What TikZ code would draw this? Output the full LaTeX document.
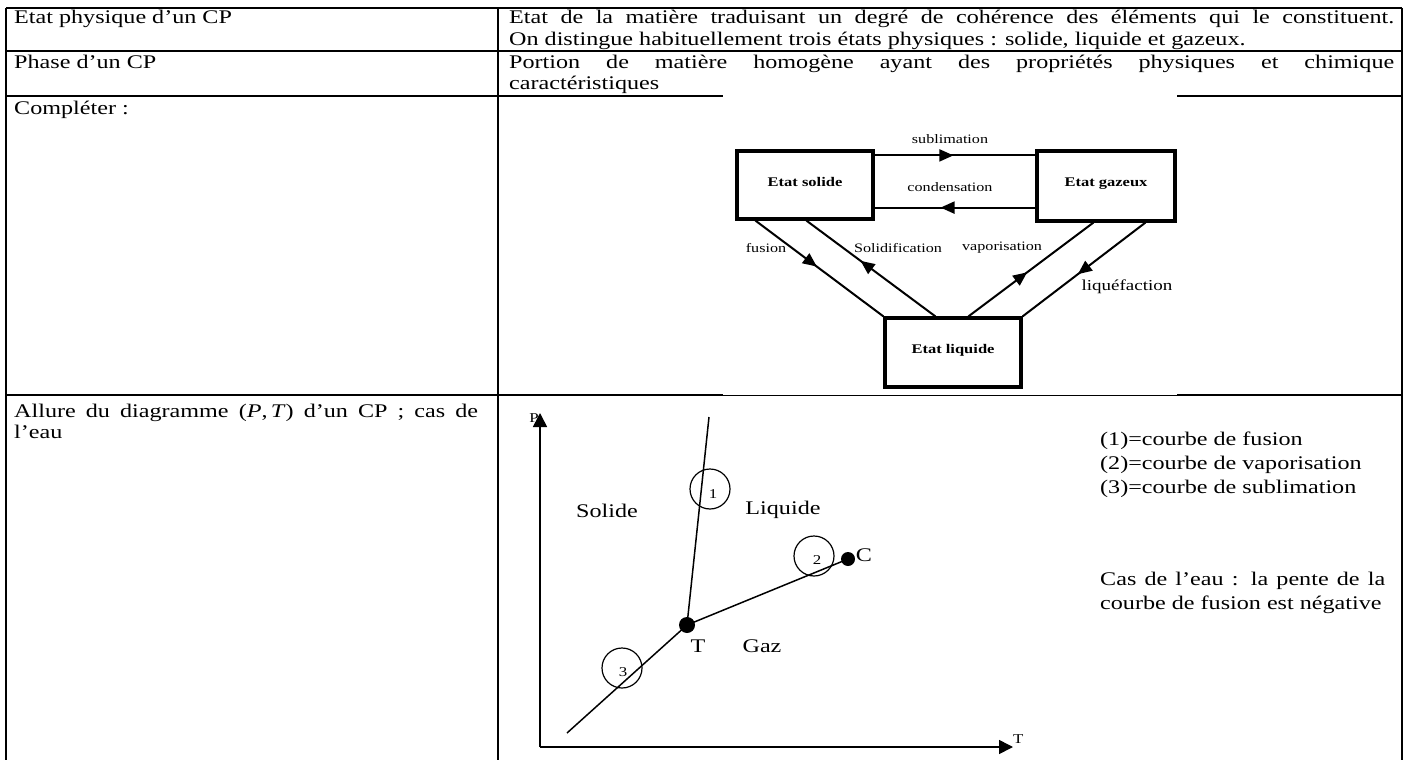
\documentclass[tikz,border=0pt]{standalone}
\usepackage{fontspec}
\setmainfont{Liberation Serif}[FakeStretch=1.25]
\usetikzlibrary{arrows.meta,decorations.markings,calc}
\newcommand{\mainsize}{\fontsize{19.3}{21.5}\selectfont}
\newcommand{\legsize}{\fontsize{19.3}{24}\selectfont}
\begin{document}
\begin{tikzpicture}[x=1pt,y=-1pt,
  gridline/.style={line width=1.8pt},
  thinline/.style={line width=1pt},
  cell/.style={anchor=north west,inner sep=0pt,align=justify,font=\mainsize},
  state/.style={draw,line width=3.2pt,inner sep=0pt,text depth=7pt,font=\fontsize{13.2}{16}\selectfont\bfseries},
  lbl/.style={inner sep=0pt,font=\fontsize{12.9}{15}\selectfont},
  lblbig/.style={inner sep=0pt,font=\fontsize{15.2}{18}\selectfont},
  conn/.style={line width=2pt,postaction={decorate},
    decoration={markings,mark=at position #1 with {\arrow{Triangle[length=14pt,width=12pt]}}}},
  axis/.style={line width=1.6pt,-{Triangle[length=14pt,width=14pt]}},
  curve/.style={line width=1.5pt},
  pt/.style={circle,fill,inner sep=0pt,minimum size=#1},
  ring/.style={circle,draw,line width=1.2pt,inner sep=0pt,minimum size=40pt},
  num/.style={inner sep=0pt,font=\fontsize{13.5}{16}\selectfont},
  region/.style={inner sep=0pt,font=\mainsize}
]
\useasboundingbox (0,0) rectangle (1409,760);
\fill[white] (0,0) rectangle (1409,760);

% table grid
\draw[gridline] (6,8) -- (1402,8);
\draw[gridline] (6,51) -- (1402,51);
\draw[gridline] (6,96) -- (723,96);
\draw[gridline] (1177,96) -- (1402,96);
\draw[gridline] (6,395) -- (723,395);
\draw[thinline] (723,395) -- (1177,395);
\draw[gridline] (1177,395) -- (1402,395);
\draw[gridline] (6,8) -- (6,760);
\draw[gridline] (498,8) -- (498,760);
\draw[gridline] (1402,8) -- (1402,760);

% cell texts
\node[cell,text width=460pt] (t1) at (14,8.5) {\strut Etat physique d'un CP};
\node[cell,text width=885pt] (d1) at (509,8.5) {\strut Etat de la matière traduisant un degré de cohérence des éléments qui le constituent.\linebreak On distingue habituellement trois états physiques : solide, liquide et gazeux.};
\node[cell,text width=460pt] (t2) at (14,53) {\strut Phase d'un CP};
\node[cell,text width=885pt] (d2) at (509,53) {\strut Portion de matière homogène ayant des propriétés physiques et chimique\linebreak caractéristiques};
\node[cell,text width=460pt] (t3) at (14,99) {\strut Compléter :};
\node[cell,text width=464pt] (t4) at (14,402) {\strut Allure du diagramme (\textit{P},\,\textit{T}) d'un CP ; cas de\linebreak l'eau};

% state diagram
\node[state,minimum width=136pt,minimum height=68pt] (sol) at (805,185) {Etat solide};
\node[state,minimum width=138pt,minimum height=70pt] (gaz) at (1106,186) {Etat gazeux};
\node[state,minimum width=136pt,minimum height=69pt] (liq) at (953,352.5) {Etat liquide};

\draw[conn=0.49] ($(sol.north east)+(0,6)$) -- ($(gaz.north west)+(0,6)$);
\draw[conn=0.59] ($(gaz.south west)+(0,-15)$) -- ($(sol.south east)+(0,-13)$);
\draw[conn=0.48] ($(sol.south west)+(20,0)$) -- (liq.north west);
\draw[conn=0.58] ($(liq.north west)+(52,0)$) -- ($(sol.south west)+(71,0)$);
\draw[conn=0.47] ($(liq.north west)+(85,0)$) -- ($(gaz.south west)+(58,0)$);
\draw[conn=0.55] ($(gaz.south west)+(110,0)$) -- (liq.north east);

\node[lbl] (lsub) at (950,139) {sublimation};
\node[lbl] (lcond) at (950,187) {condensation};
\node[lbl] (lfus) at (766,248) {fusion};
\node[lbl] (lsol) at (898,248) {Solidification};
\node[lbl] (lvap) at (1002,248) {vaporisation};
\node[lblbig] (lliq) at (1127,287) {liquéfaction};

% P-T diagram
\coordinate (O) at (540,747);
\coordinate (Ptop) at (540,413);
\coordinate (Tend) at (1013,747);
\draw[axis] (O) -- (Ptop);
\draw[axis] (O) -- (Tend);
\node[num,anchor=east] (Plab) at (539,418) {P};
\node[num,anchor=west] (Tlab) at (1013,739) {T};

\node[pt=16pt] (TP) at (687,625) {};
\node[pt=14pt] (CP) at (848,559) {};
\coordinate (F) at (709,417);
\coordinate (S) at (567,733);
\draw[curve] (TP.center) -- (F);
\draw[curve] (TP.center) -- (CP.center);
\draw[curve] (TP.center) -- (S);

\node[ring] (c1) at (710,489) {};
\node[ring] (c2) at (814,556) {};
\node[ring] (c3) at (622,668) {};
\node[num] (n1) at (713,494) {1};
\node[num] (n2) at (817,560) {2};
\node[num] (n3) at (623,672) {3};

\node[region] (rs) at (607,511) {Solide};
\node[region] (rl) at (783,510) {Liquide};
\node[region] (rg) at (762,646) {Gaz};
\node[region] (rt) at (698,646) {T};
\node[region] (rc) at (864,555) {C};

\node[anchor=north west,inner sep=0pt,align=left,font=\legsize] (leg) at (1100,428) {\strut (1)=courbe de fusion\\(2)=courbe de vaporisation\\(3)=courbe de sublimation};
\node[anchor=north west,inner sep=0pt,align=justify,text width=285pt,font=\legsize] (cas) at (1100,568) {\strut Cas de l'eau : la pente de la\linebreak courbe de fusion est négative};
\end{tikzpicture}
\end{document}
